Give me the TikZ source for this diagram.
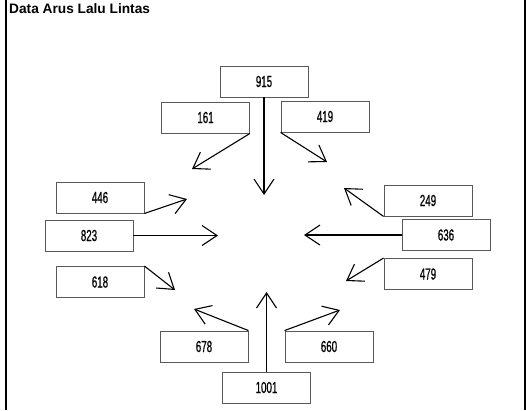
\documentclass[tikz,border=0pt]{standalone}
\usepackage{fontspec}
\setmainfont{Liberation Sans}
\newfontfamily\numfont[FakeStretch=0.61, FakeBold=0.6]{Liberation Sans}
\usetikzlibrary{arrows.meta}
\begin{document}
\begin{tikzpicture}[x=1pt, y=-1pt,
  box/.style={draw=black!65, line width=0.9pt, minimum width=88pt, minimum height=31pt, inner sep=0pt, font=\numfont\fontsize{16}{17}\selectfont},
  flow/.style={line width=1.1pt, -{Straight Barb[length=15pt, width=20pt, line width=1.1pt]}}]
\useasboundingbox (0,0) rectangle (526,410);
\draw[line width=1.5pt] (6,0) -- (6,410);
\draw[line width=1.5pt] (525,0) -- (525,410);
\node[anchor=base west, inner sep=0pt, font=\bfseries\fontsize{13.7}{15}\selectfont] (title) at (9,13.3) {Data Arus Lalu Lintas};
% kotak arus
\node[box] (b915) at (264,81.5) {915};
\node[box] (b161) at (205.5,117.5) {161};
\node[box] (b419) at (325,116.5) {419};
\node[box] (b446) at (100,197.5) {446};
\node[box] (b823) at (89,235.5) {823};
\node[box] (b618) at (100,282) {618};
\node[box] (b249) at (428,200.5) {249};
\node[box] (b636) at (446,235) {636};
\node[box] (b479) at (428,274) {479};
\node[box] (b678) at (204,346.5) {678};
\node[box] (b660) at (329,346.5) {660};
\node[box] (b1001) at (266.5,387.5) {1001};
% ujung panah
\coordinate (t915) at (264,195);
\coordinate (t161) at (192,169);
\coordinate (t419) at (327,162);
\coordinate (t446) at (187,199);
\coordinate (t823) at (218,235.5);
\coordinate (t618) at (175,290);
\coordinate (t249) at (344,188);
\coordinate (t636) at (304,235);
\coordinate (t479) at (346,281);
\coordinate (t678) at (194,309);
\coordinate (t660) at (340,310);
\coordinate (t1001) at (266.5,292);
\draw[flow](b915.south) -- (t915);
\draw[flow](b161.south east) -- (t161);
\draw[flow](b419.south west) -- (t419);
\draw[flow](b446.south east) -- (t446);
\draw[flow](b823.east) -- (t823);
\draw[flow](b618.north east) -- (t618);
\draw[flow](b249.south west) -- (t249);
\draw[flow](b636.west) -- (t636);
\draw[flow](b479.north west) -- (t479);
\draw[flow](b678.north east) -- (t678);
\draw[flow](b660.north west) -- (t660);
\draw[flow](b1001.north) -- (t1001);
\end{tikzpicture}
\end{document}
